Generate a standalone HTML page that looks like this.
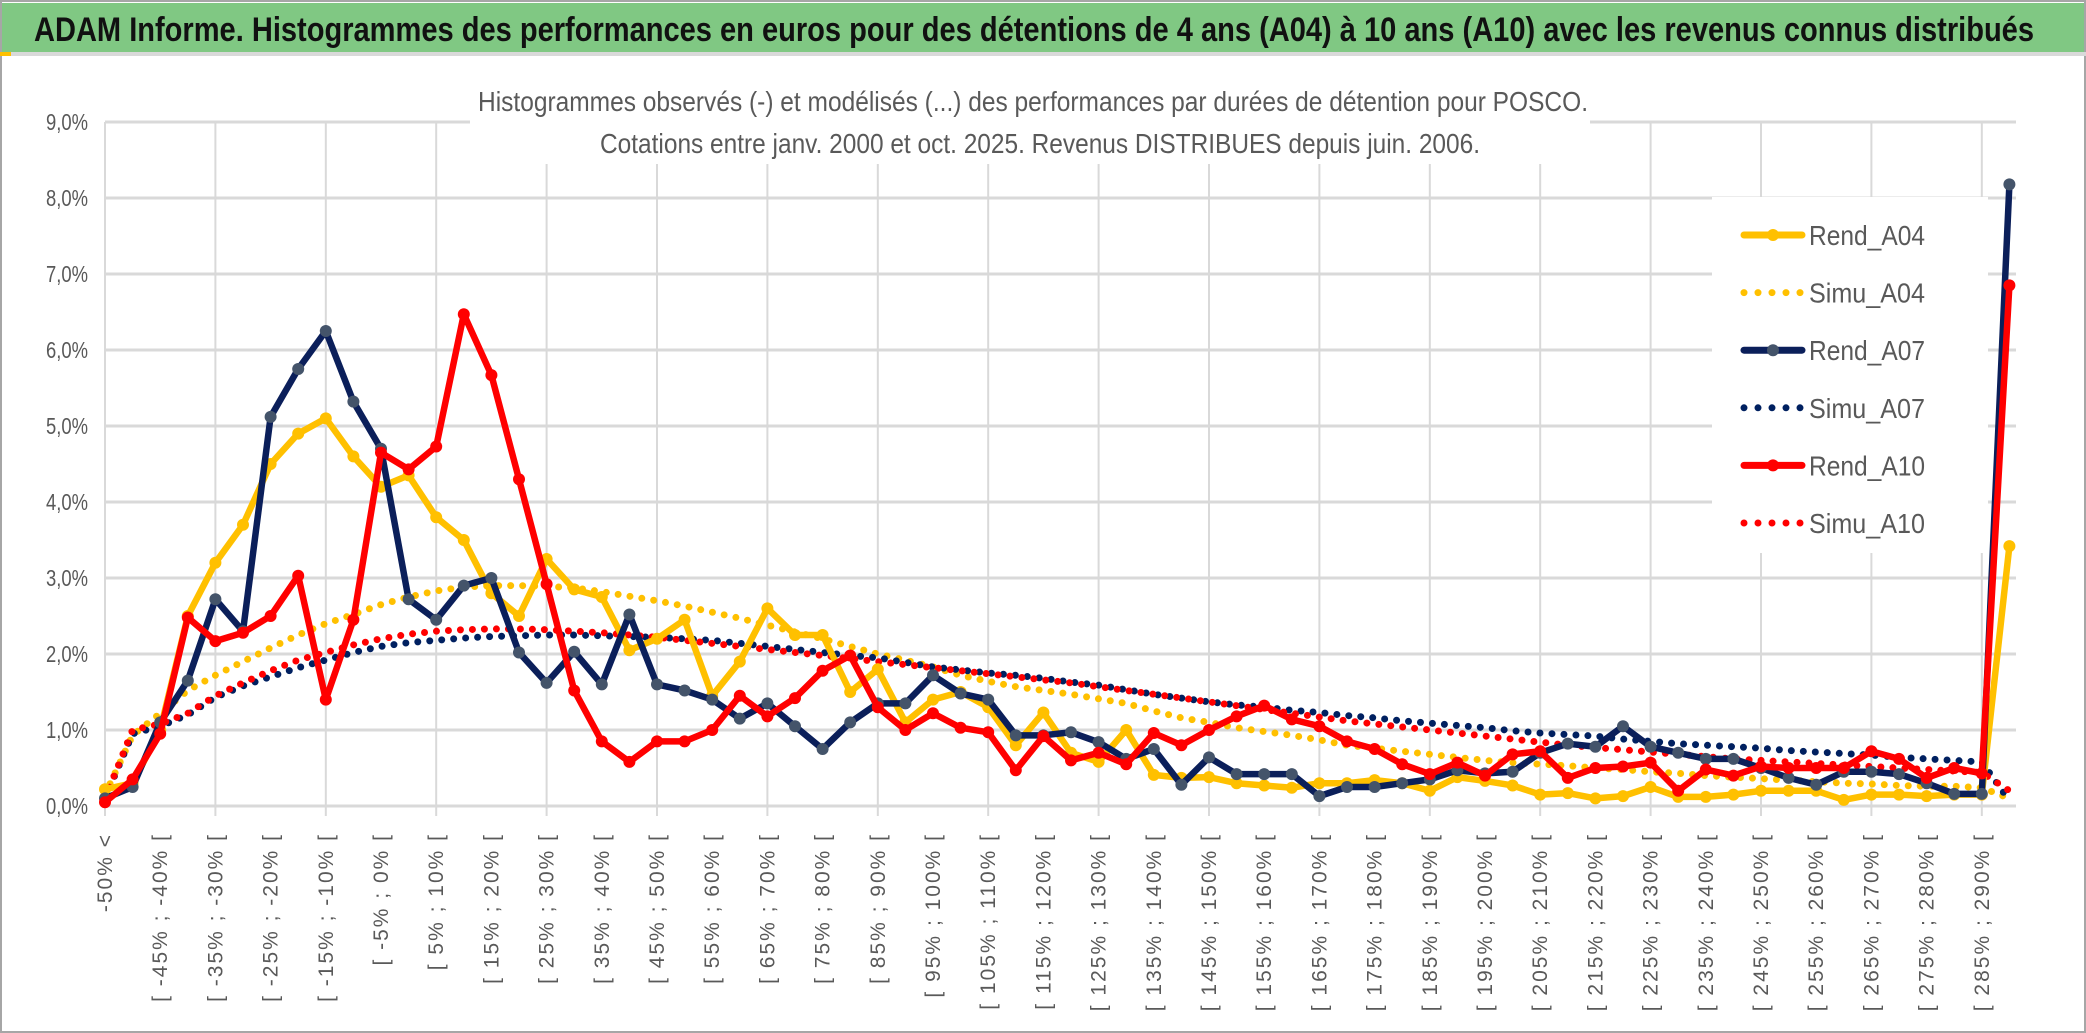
<!DOCTYPE html>
<html><head><meta charset="utf-8"><style>
html,body{margin:0;padding:0;background:#fff;}
svg{display:block;font-family:"Liberation Sans",sans-serif;}
</style></head><body>
<svg id="chart" width="2086" height="1033" viewBox="0 0 2086 1033">
<rect x="0" y="0" width="2086" height="1033" fill="#fff"/>
<rect x="1" y="1" width="2084" height="1031" fill="none" stroke="#a6a6a6" stroke-width="2"/>
<rect x="2" y="3" width="2082" height="49" fill="#80c883"/>
<rect x="0" y="52" width="2086" height="4" fill="#d9d9d9"/>
<rect x="0" y="52" width="11" height="4" fill="#ffc000"/>
<text x="1034" y="41" text-anchor="middle" font-size="34" font-weight="bold" fill="#111" textLength="2000" lengthAdjust="spacingAndGlyphs">ADAM Informe. Histogrammes des performances en euros pour des détentions de 4 ans (A04) à 10 ans (A10) avec les revenus connus distribués</text>
<g id="grid"></g>
<g id="axes"></g>
<rect x="470" y="62" width="1120" height="102" fill="#fff"/>
<text x="1033" y="111" text-anchor="middle" font-size="28" fill="#595959" textLength="1110" lengthAdjust="spacingAndGlyphs">Histogrammes observés (-) et modélisés (...) des performances par durées de détention pour POSCO.</text>
<text x="1040" y="153" text-anchor="middle" font-size="28" fill="#595959" textLength="880" lengthAdjust="spacingAndGlyphs">Cotations entre janv. 2000 et oct. 2025. Revenus DISTRIBUES depuis juin. 2006.</text>
<g id="series"></g>
<rect x="1712" y="197" width="276" height="356" fill="#fff"/>
<g id="legend"></g>
</svg>
<script>
const rendA04 = [0.22,0.3,1.0,2.5,3.2,3.7,4.5,4.9,5.1,4.6,4.2,4.35,3.8,3.5,2.8,2.5,3.25,2.85,2.75,2.05,2.2,2.45,1.45,1.9,2.6,2.25,2.25,1.5,1.8,1.1,1.4,1.5,1.3,0.8,1.23,0.7,0.58,1.0,0.41,0.37,0.38,0.3,0.27,0.24,0.3,0.3,0.34,0.3,0.2,0.38,0.33,0.27,0.15,0.17,0.1,0.13,0.25,0.12,0.12,0.15,0.2,0.2,0.2,0.08,0.15,0.15,0.13,0.15,0.15,3.42];
const simuA04 = [0.15,0.93,1.22,1.52,1.72,1.9,2.08,2.25,2.4,2.52,2.65,2.75,2.83,2.88,2.9,2.9,2.89,2.87,2.82,2.76,2.7,2.63,2.55,2.47,2.38,2.29,2.2,2.1,2.0,1.92,1.83,1.72,1.64,1.57,1.52,1.47,1.41,1.35,1.25,1.16,1.1,1.03,0.98,0.93,0.87,0.8,0.76,0.72,0.68,0.64,0.6,0.57,0.55,0.53,0.5,0.48,0.45,0.43,0.4,0.38,0.36,0.34,0.32,0.3,0.29,0.27,0.26,0.26,0.24,0.1];
const rendA07 = [0.1,0.25,1.1,1.65,2.72,2.3,5.12,5.75,6.25,5.32,4.7,2.72,2.45,2.9,3.0,2.02,1.62,2.03,1.6,2.52,1.6,1.52,1.4,1.15,1.35,1.05,0.75,1.1,1.35,1.35,1.72,1.48,1.4,0.93,0.93,0.97,0.84,0.62,0.75,0.28,0.64,0.42,0.42,0.42,0.13,0.25,0.25,0.3,0.35,0.47,0.43,0.45,0.7,0.82,0.78,1.05,0.78,0.7,0.62,0.62,0.5,0.37,0.28,0.45,0.45,0.42,0.3,0.16,0.16,8.18];
const simuA07 = [0.1,0.95,1.05,1.2,1.43,1.58,1.7,1.82,1.92,2.02,2.1,2.15,2.18,2.21,2.23,2.24,2.25,2.25,2.24,2.23,2.22,2.2,2.18,2.14,2.1,2.06,2.02,1.98,1.95,1.89,1.83,1.79,1.75,1.72,1.68,1.63,1.59,1.53,1.47,1.42,1.37,1.33,1.3,1.26,1.23,1.19,1.16,1.12,1.09,1.06,1.03,0.99,0.96,0.94,0.92,0.88,0.85,0.82,0.8,0.78,0.76,0.73,0.71,0.69,0.67,0.64,0.62,0.6,0.58,0.07];
const rendA10 = [0.05,0.35,0.95,2.48,2.17,2.28,2.5,3.03,1.4,2.45,4.65,4.43,4.73,6.47,5.67,4.3,2.92,1.52,0.85,0.58,0.85,0.85,1.0,1.45,1.18,1.42,1.78,1.98,1.3,1.0,1.22,1.03,0.97,0.47,0.92,0.6,0.7,0.55,0.96,0.8,1.0,1.18,1.32,1.14,1.05,0.85,0.75,0.55,0.42,0.57,0.4,0.68,0.72,0.37,0.5,0.52,0.57,0.2,0.48,0.4,0.52,0.5,0.5,0.5,0.72,0.62,0.37,0.5,0.43,6.85];
const simuA10 = [0.1,1.0,1.08,1.22,1.45,1.62,1.78,1.92,2.02,2.12,2.2,2.26,2.3,2.32,2.33,2.33,2.32,2.3,2.28,2.25,2.22,2.18,2.14,2.1,2.06,2.02,1.98,1.94,1.9,1.86,1.82,1.78,1.74,1.7,1.66,1.62,1.57,1.52,1.47,1.42,1.37,1.32,1.27,1.22,1.17,1.12,1.08,1.04,1.0,0.96,0.92,0.88,0.84,0.8,0.77,0.74,0.71,0.68,0.65,0.62,0.6,0.58,0.56,0.54,0.52,0.5,0.48,0.46,0.44,0.2];
const yTicks = [0,1,2,3,4,5,6,7,8,9];
const nCat = 70;

const NS = "http://www.w3.org/2000/svg";
const X0 = 105, DX = 27.6, Y0 = 806, DY = 76;
function xs(i){ return X0 + i*DX; }
function ys(v){ return Y0 - v*DY; }
function mk(tag, attrs, parent){ const e=document.createElementNS(NS,tag); for(const k in attrs) e.setAttribute(k,attrs[k]); parent.appendChild(e); return e; }
function catLabel(i){
  if(i===0) return "-50% <";
  const lo=-55+5*i, hi=lo+5;
  return "[ "+lo+"% ; "+hi+"% [";
}
const grid=document.getElementById('grid'), axes=document.getElementById('axes');
yTicks.forEach(t=>{
  const l=mk('line',{x1:X0,x2:2016,y1:ys(t),y2:ys(t),stroke:'#d9d9d9','stroke-width':3},grid);
  
  
  const tx=mk('text',{x:88,y:ys(t)+8,'text-anchor':'end','font-size':23,fill:'#595959',textLength:42,lengthAdjust:'spacingAndGlyphs'},axes);
  tx.textContent=t.toFixed(1).replace('.',',')+'%';
  
  
});
for(let i=0;i<nCat;i++){
  if(i%4===0 && i<=68){
    const g=mk('line',{x1:xs(i),x2:xs(i),y1:ys(9),y2:Y0+10,stroke:'#d9d9d9','stroke-width':2},grid);
    
    
  }
  if(i%2===0 && i<=68){
    const tx=mk('text',{x:0,y:0,'text-anchor':'end','font-size':21,fill:'#595959','letter-spacing':'2',transform:'translate('+(xs(i)+7)+',833) rotate(-90)'},axes);
    tx.textContent=catLabel(i);
    
    
  }
}
const seriesG=document.getElementById('series');
function drawSimu(vals,color,name){
  const p=mk('polyline',{points:vals.map((v,i)=>xs(i)+','+ys(v)).join(' '),fill:'none',stroke:color,'stroke-width':7,'stroke-linecap':'round','stroke-dasharray':'0 12'},seriesG);
  
  
}
function drawRend(vals,color,mcol,name){
  const g=mk('g',{},seriesG);
  
  
  mk('polyline',{points:vals.map((v,i)=>xs(i)+','+ys(v)).join(' '),fill:'none',stroke:color,'stroke-width':6.5,'stroke-linejoin':'round'},g);
  vals.forEach((v,i)=>{
    const c=mk('circle',{cx:xs(i),cy:ys(v),r:6,fill:mcol},g);
    
    
  });
}
drawSimu(simuA04,'#ffc000','simu-a04-line');
drawSimu(simuA07,'#002060','simu-a07-line');
drawSimu(simuA10,'#ff0000','simu-a10-line');
drawRend(rendA04,'#ffc000','#ffc000','rend-a04-line');
drawRend(rendA07,'#0b1f5a','#44546a','rend-a07-line');
drawRend(rendA10,'#ff0000','#ff0000','rend-a10-line');

const leg=document.getElementById('legend');
const legItems=[['Rend_A04','#ffc000','#ffc000',false],['Simu_A04','#ffc000','',true],['Rend_A07','#0b1f5a','#44546a',false],['Simu_A07','#002060','',true],['Rend_A10','#ff0000','#ff0000',false],['Simu_A10','#ff0000','',true]];
legItems.forEach((it,k)=>{
  const y=235+k*57.6;
  const g=mk('g',{},leg);
  
  
  if(it[3]){
    mk('line',{x1:1744,x2:1802,y1:y,y2:y,stroke:it[1],'stroke-width':7,'stroke-linecap':'round','stroke-dasharray':'0 14'},g);
  } else {
    mk('line',{x1:1744,x2:1802,y1:y,y2:y,stroke:it[1],'stroke-width':7,'stroke-linecap':'round'},g);
    mk('circle',{cx:1773,cy:y,r:6,fill:it[2]},g);
  }
  const t=mk('text',{x:1809,y:y+10,'font-size':28,fill:'#595959',textLength:116,lengthAdjust:'spacingAndGlyphs'},g);
  t.textContent=it[0];
});
</script>
</body></html>
